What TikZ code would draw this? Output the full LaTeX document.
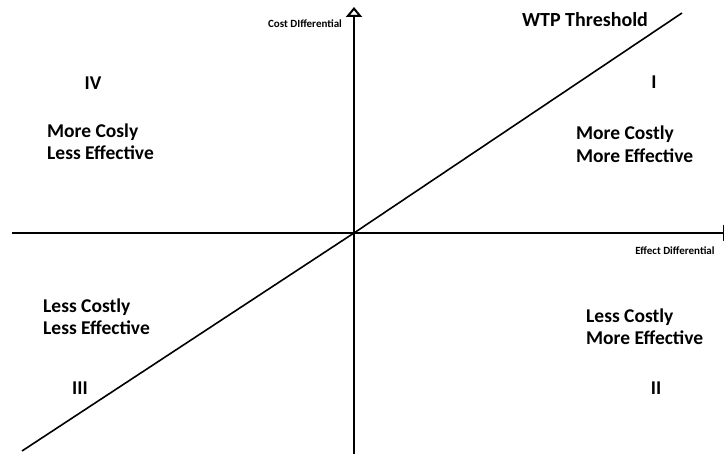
\documentclass[tikz,border=0pt]{standalone}
\usepackage{fontspec}
\setmainfont{Carlito}
\usetikzlibrary{arrows.meta}

\tikzset{
    axis/.style={line width=2.6pt, -{Triangle[open, width=16pt, length=10pt, line width=2pt]}},
    wtp/.style={line width=1.6pt},
    quad/.style={font=\bfseries\fontsize{19.5}{22.5}\selectfont, inner sep=0pt, align=left},
    numeral/.style={font=\bfseries\fontsize{19.5}{22.5}\selectfont, inner sep=0pt},
    axislabel/.style={font=\bfseries\fontsize{11}{13}\selectfont, inner sep=0pt}
}

\begin{document}
\begin{tikzpicture}[x=1pt, y=-1pt]

    \useasboundingbox (0,0) rectangle (724,454);

    \coordinate (O) at (354,233);
    \coordinate (ybot) at (354,456);
    \coordinate (ytop) at (354,7);
    \coordinate (xleft) at (12,233);
    \coordinate (xright) at (733,233);
    \coordinate (wtplo) at (22,451);
    \coordinate (wtphi) at (682,13);

    \draw[axis] (ybot) -- (ytop);
    \draw[axis] (xleft) -- (xright);
    \draw[wtp] (wtplo) -- (O) -- (wtphi);

    \node[axislabel] (costlab) at (305,24) {Cost DIfferential};
    \node[axislabel] (efflab) at (675,251) {Effect Differential};
    \node[font=\bfseries\fontsize{20}{24}\selectfont, inner sep=0pt] (wtplab) at (585,20) {WTP Threshold};

    \node[numeral] (q1) at (654,82) {I};
    \node[numeral] (q2) at (656,388) {II};
    \node[numeral] (q3) at (80,388) {III};
    \node[numeral] (q4) at (93,83) {IV};

    \node[quad, anchor=west] (t1) at (576,144) {More Costly\\More Effective};
    \node[quad, anchor=west] (t2) at (586,326.5) {Less Costly\\More Effective};
    \node[quad, anchor=west] (t3) at (43,316.5) {Less Costly\\Less Effective};
    \node[quad, anchor=west] (t4) at (47,141.5) {More Cosly\\Less Effective};

\end{tikzpicture}
\end{document}
